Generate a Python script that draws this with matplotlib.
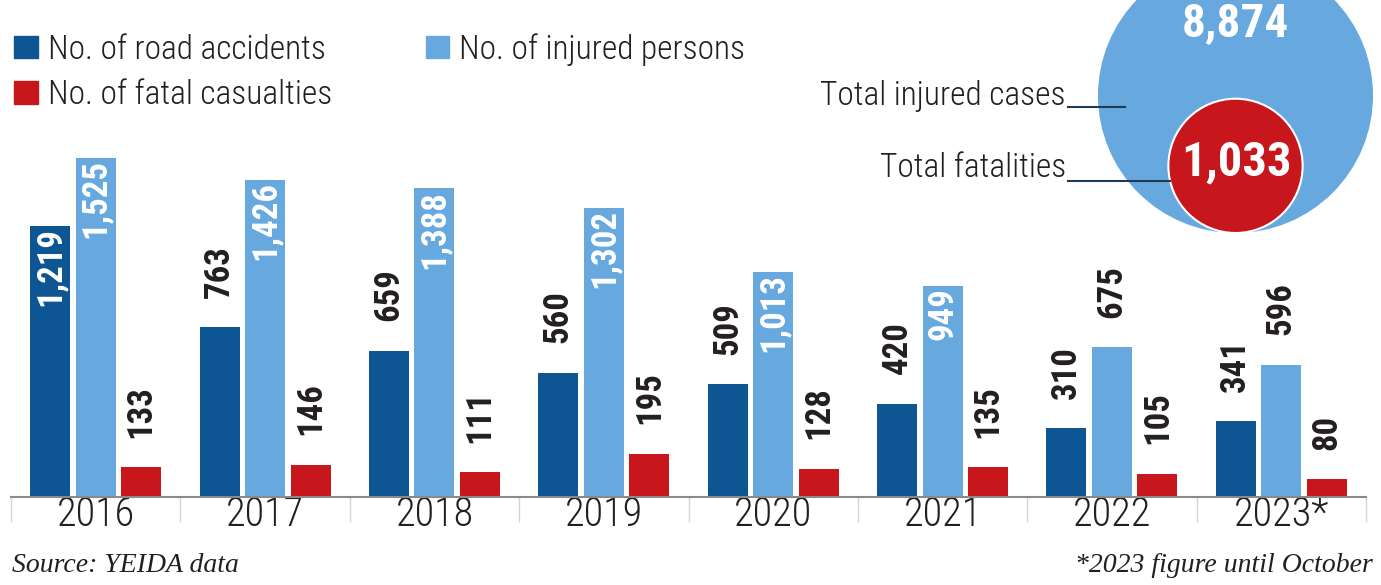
import numpy as np
import matplotlib
matplotlib.use("Agg")
import matplotlib.pyplot as plt
from matplotlib.patches import Patch, Circle

years = ["2016", "2017", "2018", "2019", "2020", "2021", "2022", "2023*"]
accidents = [1219, 763, 659, 560, 509, 420, 310, 341]
injured = [1525, 1426, 1388, 1302, 1013, 949, 675, 596]
fatal = [133, 146, 111, 195, 128, 135, 105, 80]
total_injured = 8874
total_fatal = 1033

DARK = "#0d5593"
LIGHT = "#67a8df"
RED = "#c8161d"
INK = "#231f20"

W, H = 1381, 585
COND = ["Roboto Condensed", "DejaVu Sans"]
SERIF_I = ["Liberation Serif", "DejaVu Serif"]

fig = plt.figure(figsize=(W / 100, H / 100), dpi=100)

# ---- grouped bars ----
base = 497          # pixel row of the baseline
px_per_unit = 0.2223
ax = fig.add_axes([11 / W, (H - base) / H, 1355 / W, base / H])
ax.set_xlim(0, len(years))
ax.set_ylim(0, base / px_per_unit)

x = np.arange(len(years)) + 0.5
bw = 40 / (1355 / len(years))
step = 45.5 / (1355 / len(years))
series = [(accidents, DARK, -step), (injured, LIGHT, 0), (fatal, RED, step)]
for vals, col, off in series:
    bars = ax.bar(x + off, vals, width=bw, color=col, zorder=2)
    for b, v in zip(bars, vals):
        lab = f"{v:,}"
        cx = b.get_x() + b.get_width() / 2
        if v >= 900:
            # big values sit inside the bar in white
            ax.annotate(lab, (cx, v), xytext=(0, -1), textcoords="offset points",
                        rotation=90, ha="center", va="top", color="white",
                        fontsize=25, fontweight="bold", family=COND, zorder=3)
        else:
            ax.annotate(lab, (cx, v), xytext=(0, 21), textcoords="offset points",
                        rotation=90, ha="center", va="bottom", color=INK,
                        fontsize=25, fontweight="bold", family=COND, zorder=3)

for s in ["top", "right", "left"]:
    ax.spines[s].set_visible(False)
ax.spines["bottom"].set_color("#8a8a8a")
ax.spines["bottom"].set_linewidth(1.5)
ax.set_yticks([])
ax.set_xticks(np.arange(len(years) + 1))
ax.set_xticklabels([])
ax.tick_params(axis="x", which="major", length=18, width=1, color="#d5d5d5", direction="out")
ax.set_xticks(x, minor=True)
ax.set_xticklabels(years, minor=True, fontsize=29, family=COND, fontweight="light", color=INK)
ax.tick_params(axis="x", which="minor", length=0, pad=-1)

# ---- legend ----
handles = [Patch(color=DARK, label="No. of road accidents"),
           Patch(color=RED, label="No. of fatal casualties"),
           Patch(color=LIGHT, label="No. of injured persons")]
fig.legend(handles=handles, loc="upper left", bbox_to_anchor=(14 / W, 1 - 33 / H),
           ncol=2, frameon=False, borderpad=0, borderaxespad=0,
           handlelength=0.71, handleheight=0.68, handletextpad=0.3,
           labelspacing=0.4, columnspacing=2.81,
           prop={"family": COND, "size": 24, "weight": "light"}, labelcolor=INK)

# ---- nested bubbles (radius ~ cube root of value, bottoms aligned) ----
ov = fig.add_axes([0, 0, 1, 1], zorder=5)
ov.set_xlim(0, W)
ov.set_ylim(H, 0)
ov.axis("off")
k = 137.5 / total_injured ** (1 / 3)
cx, bottom = 1235.5, 233
r_big = k * total_injured ** (1 / 3)
r_red = k * total_fatal ** (1 / 3)
ov.add_patch(Circle((cx, bottom - r_big), r_big, color=LIGHT, lw=0))
ov.add_patch(Circle((cx, bottom - r_red), r_red, facecolor=RED, edgecolor="white", lw=1.5))
ov.text(cx, 36, f"{total_injured:,}", ha="center", va="baseline", color="white",
        fontsize=34, fontweight="bold", family=COND)
ov.text(cx + 1, 175, f"{total_fatal:,}", ha="center", va="baseline", color="white",
        fontsize=35, fontweight="bold", family=COND)

ov.text(1066, 105, "Total injured cases", ha="right", va="baseline", color=INK,
        fontsize=24, fontweight="light", family=COND)
ov.plot([1068, 1125], [107, 107], color="#1e3a55", lw=1.5)
ov.text(1066, 177, "Total fatalities", ha="right", va="baseline", color=INK,
        fontsize=24, fontweight="light", family=COND)
ov.plot([1068, 1170], [181, 181], color="#1e3a55", lw=1.5)

# ---- footer ----
ov.text(12, 572, "Source: YEIDA data", ha="left", va="baseline", color=INK,
        fontsize=20, style="italic", family=SERIF_I)
ov.text(1373, 572, "*2023 figure until October", ha="right", va="baseline", color=INK,
        fontsize=20, style="italic", family=SERIF_I)

fig.savefig("out.png", dpi=100)
